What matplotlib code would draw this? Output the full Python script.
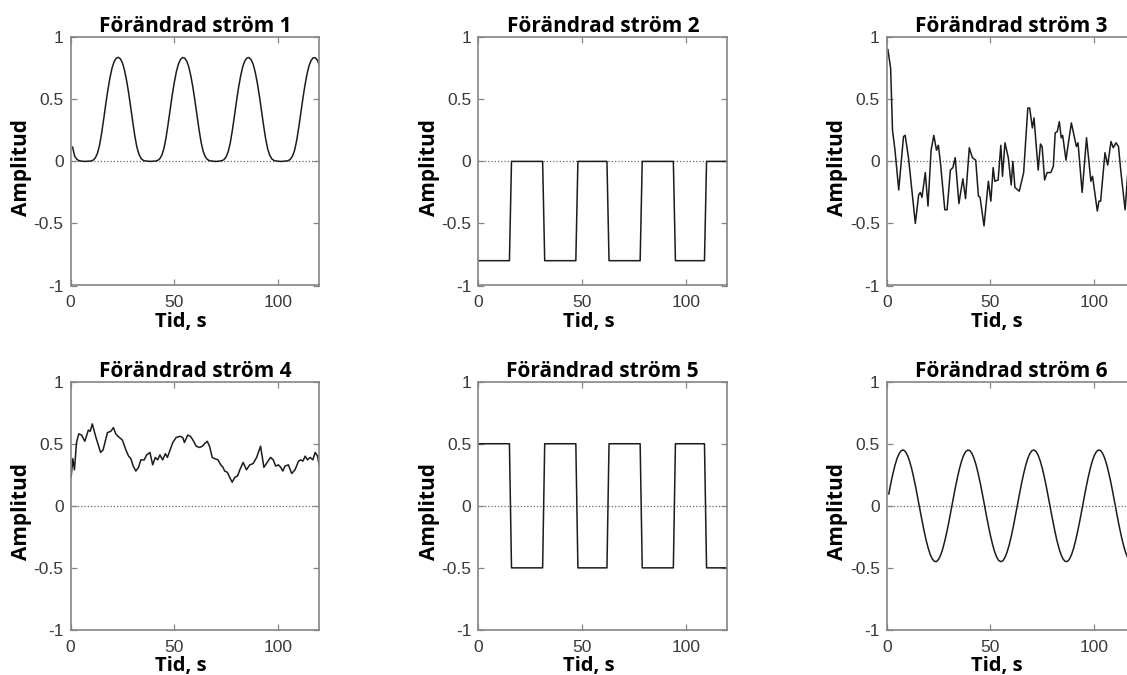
import matplotlib
matplotlib.use('Agg')
import matplotlib.pyplot as plt
import numpy as np

plt.rcParams['axes.unicode_minus'] = False

# Time axis for the sampled streams (1 s steps)
t_sec = np.arange(1, 121)

# Stream 1: periodic pulses
strom1 = [0.115, 0.043, 0.018, 0.007, 0.003, 0.001, 0.000, 0.001, 0.002, 0.004,
          0.011, 0.029, 0.066, 0.130, 0.227, 0.342, 0.462, 0.575, 0.673, 0.751,
          0.803, 0.831, 0.839, 0.827, 0.795, 0.737, 0.655, 0.554, 0.438, 0.318,
          0.205, 0.114, 0.057, 0.024, 0.009, 0.004, 0.002, 0.001, 0.000, 0.002,
          0.003, 0.008, 0.021, 0.050, 0.102, 0.187, 0.296, 0.414, 0.531, 0.635,
          0.721, 0.784, 0.821, 0.837, 0.833, 0.809, 0.762, 0.689, 0.595, 0.485,
          0.366, 0.250, 0.149, 0.078, 0.036, 0.015, 0.006, 0.003, 0.001, 0.000,
          0.001, 0.003, 0.006, 0.015, 0.036, 0.078, 0.149, 0.250, 0.366, 0.485,
          0.595, 0.689, 0.762, 0.809, 0.833, 0.837, 0.821, 0.784, 0.721, 0.635,
          0.531, 0.414, 0.296, 0.187, 0.102, 0.050, 0.021, 0.008, 0.003, 0.002,
          0.000, 0.000, 0.002, 0.003, 0.007, 0.018, 0.043, 0.090, 0.168, 0.273,
          0.390, 0.508, 0.615, 0.705, 0.773, 0.815, 0.835, 0.835, 0.815, 0.773]

# Stream 2: square wave between -0.8 and 0 (corner points)
t_strom2 = [0, 15, 16, 31, 32, 47, 48, 62, 63, 78, 79, 94, 95, 109, 110, 120]
strom2 = [-0.8, -0.8, 0, 0, -0.8, -0.8, 0, 0, -0.8, -0.8, 0, 0, -0.8, -0.8, 0, 0]

# Stream 3: noisy signal
t_strom3 = [0.6, 1.9, 2.8, 4.0, 5.8, 8.1, 8.9, 10.5, 13.8, 15.4, 16.2, 17.0, 18.6,
            19.9, 21.4, 22.7, 24.0, 24.9, 25.9, 28.0, 29.1, 30.7, 31.9, 33.0, 34.8,
            36.7, 38.0, 39.8, 41.3, 42.9, 44.2, 45.0, 46.9, 49.0, 50.2, 51.3, 52.1,
            53.7, 55.0, 55.8, 57.0, 58.6, 60.0, 60.8, 61.8, 63.9, 66.0, 68.0, 68.9,
            70.2, 71.0, 73.0, 74.1, 74.9, 76.1, 77.3, 79.1, 80.3, 81.2, 82.2, 83.2,
            84.1, 84.8, 86.4, 87.4, 89.0, 91.4, 92.2, 94.2, 96.3, 98.4, 99.2, 101.5,
            102.3, 103.1, 105.2, 106.5, 108.1, 109.2, 110.5, 111.7, 112.9, 114.9,
            116.2, 116.7, 118.0, 120.0]
strom3 = [0.90, 0.75, 0.25, 0.09, -0.23, 0.20, 0.21, 0.03, -0.50, -0.27, -0.25, -0.29,
          -0.09, -0.36, 0.09, 0.21, 0.09, 0.13, -0.01, -0.39, -0.39, -0.07, -0.05, 0.03,
          -0.34, -0.14, -0.30, 0.11, 0.03, 0.01, -0.28, -0.29, -0.52, -0.16, -0.32, -0.05,
          -0.16, -0.15, 0.13, -0.12, 0.15, 0.03, -0.19, 0.00, -0.21, -0.24, -0.09, 0.43,
          0.43, 0.27, 0.35, -0.07, 0.14, 0.12, -0.15, -0.09, -0.09, -0.04, 0.23, 0.24,
          0.32, 0.19, 0.21, 0.01, 0.13, 0.31, 0.12, 0.15, -0.25, 0.19, -0.16, -0.12,
          -0.40, -0.32, -0.32, 0.07, -0.03, 0.16, 0.11, 0.15, 0.12, -0.09, -0.39,
          -0.09, -0.08, -0.12, -0.10]

# Stream 4: noisy signal around 0.4
t_strom4 = [0.3, 1.1, 1.9, 2.9, 4.0, 5.3, 6.9, 8.6, 9.5, 10.5, 12.1, 14.5, 15.7, 17.8,
            19.4, 20.7, 21.8, 22.9, 25.0, 26.7, 28.0, 29.1, 30.2, 31.5, 32.8, 33.9,
            35.5, 36.7, 38.3, 39.6, 40.9, 42.0, 43.1, 44.4, 45.7, 46.7, 48.0, 49.3,
            50.9, 52.8, 54.1, 54.9, 56.5, 57.8, 59.0, 60.6, 62.2, 63.5, 64.6, 65.9,
            67.0, 68.3, 69.5, 71.1, 72.4, 73.5, 74.3, 75.6, 76.7, 77.9, 79.2, 80.5,
            81.6, 83.2, 84.8, 86.4, 88.0, 89.7, 91.6, 93.2, 94.8, 96.4, 97.7, 98.9,
            100.2, 101.3, 102.3, 103.4, 105.0, 106.6, 108.2, 109.9, 111.0, 112.0,
            113.1, 114.2, 115.5, 116.8, 117.9, 119.1, 119.9]
strom4 = [0.23, 0.38, 0.29, 0.51, 0.58, 0.57, 0.52, 0.61, 0.60, 0.66, 0.56, 0.43, 0.45,
          0.59, 0.60, 0.63, 0.58, 0.56, 0.53, 0.45, 0.40, 0.38, 0.32, 0.28, 0.31, 0.37,
          0.37, 0.41, 0.43, 0.33, 0.39, 0.37, 0.41, 0.37, 0.42, 0.39, 0.45, 0.51, 0.55,
          0.56, 0.55, 0.51, 0.57, 0.56, 0.53, 0.48, 0.47, 0.48, 0.50, 0.52, 0.48, 0.39,
          0.38, 0.37, 0.33, 0.31, 0.28, 0.27, 0.23, 0.19, 0.23, 0.24, 0.29, 0.35, 0.29,
          0.33, 0.34, 0.39, 0.48, 0.31, 0.35, 0.39, 0.37, 0.32, 0.33, 0.31, 0.28, 0.32,
          0.33, 0.26, 0.29, 0.36, 0.37, 0.36, 0.40, 0.37, 0.39, 0.37, 0.43, 0.40, 0.32]

# Stream 5: square wave between 0.5 and -0.5 (corner points)
t_strom5 = [0, 15, 16, 31, 32, 47, 48, 62, 63, 78, 79, 94, 95, 109, 110, 120]
strom5 = [0.5, 0.5, -0.5, -0.5, 0.5, 0.5, -0.5, -0.5, 0.5, 0.5, -0.5, -0.5, 0.5, 0.5, -0.5, -0.5]

# Stream 6: sine wave
strom6 = [0.096, 0.182, 0.259, 0.327, 0.382, 0.421, 0.444, 0.450, 0.437, 0.407,
          0.361, 0.301, 0.229, 0.148, 0.060, -0.029, -0.117, -0.201, -0.277, -0.341,
          -0.393, -0.429, -0.448, -0.449, -0.432, -0.397, -0.347, -0.283, -0.209, -0.126,
          -0.038, 0.052, 0.140, 0.221, 0.294, 0.356, 0.404, 0.435, 0.449, 0.446,
          0.424, 0.386, 0.333, 0.266, 0.190, 0.105, 0.016, -0.074, -0.160, -0.240,
          -0.310, -0.369, -0.413, -0.441, -0.450, -0.443, -0.416, -0.374, -0.317, -0.248,
          -0.169, -0.082, 0.007, 0.096, 0.182, 0.259, 0.327, 0.382, 0.421, 0.444,
          0.450, 0.437, 0.407, 0.361, 0.301, 0.229, 0.148, 0.060, -0.029, -0.117,
          -0.201, -0.277, -0.341, -0.393, -0.429, -0.448, -0.449, -0.432, -0.397, -0.347,
          -0.283, -0.209, -0.126, -0.038, 0.052, 0.140, 0.221, 0.294, 0.356, 0.404,
          0.435, 0.449, 0.446, 0.424, 0.386, 0.333, 0.266, 0.190, 0.105, 0.016,
          -0.074, -0.160, -0.240, -0.310, -0.369, -0.413, -0.441, -0.450, -0.443, -0.416]

titles = ['Förändrad ström %d' % i for i in range(1, 7)]
series = [(t_sec, strom1), (t_strom2, strom2), (t_strom3, strom3),
          (t_strom4, strom4), (t_strom5, strom5), (t_sec, strom6)]

x_ticks = [0, 50, 100]
y_ticks = [-1, -0.5, 0, 0.5, 1]
y_ticklabels = ['-1', '-0.5', '0', '0.5', '1']

BOLD = 'Open Sans'
TICK = 'Liberation Sans'
SPINE = '#858585'
TEXT = '#3a3a3a'

fig = plt.figure(figsize=(11.27, 6.75), dpi=100)

W, H = 1127, 675
col_left = [70.5, 478.3, 886.7]
row_top = [37.3, 381.7]
ax_w, ax_h = 249.0, 248.2

for i, (title, (t, v)) in enumerate(zip(titles, series)):
    r, c = divmod(i, 3)
    ax = fig.add_axes([col_left[c] / W, (H - row_top[r] - ax_h) / H, ax_w / W, ax_h / H])

    ax.axhline(0, color='#6a6a6a', linestyle=(0, (1, 1.6)), linewidth=0.9, zorder=1)
    ax.plot(t, v, color='#1c1c1c', linewidth=1.1, zorder=2)

    ax.set_xlim(0, 120)
    ax.set_ylim(-1, 1)
    ax.set_xticks(x_ticks)
    ax.set_yticks(y_ticks)
    ax.set_yticklabels(y_ticklabels)

    for sp in ax.spines.values():
        sp.set_color(SPINE)
        sp.set_linewidth(1.2)
    ax.tick_params(direction='in', length=4, width=0.9, color=SPINE,
                   top=True, right=True, labelsize=12.5, labelcolor=TEXT, pad=7)
    ax.tick_params(axis='y', pad=5)
    for lab in ax.get_xticklabels() + ax.get_yticklabels():
        lab.set_fontfamily(TICK)

    ax.set_title(title, fontsize=15, fontweight='bold', family=BOLD, pad=3.5)
    ax.set_xlabel('Tid, s', fontsize=14.5, fontweight='bold', family=BOLD)
    ax.xaxis.set_label_coords(0.442, -0.105)
    ax.xaxis.label.set_verticalalignment('top')
    ax.set_ylabel('Amplitud', fontsize=15, fontweight='bold', family=BOLD)
    ax.yaxis.set_label_coords(-0.155, 0.476)

fig.savefig('out.png', dpi=100)
